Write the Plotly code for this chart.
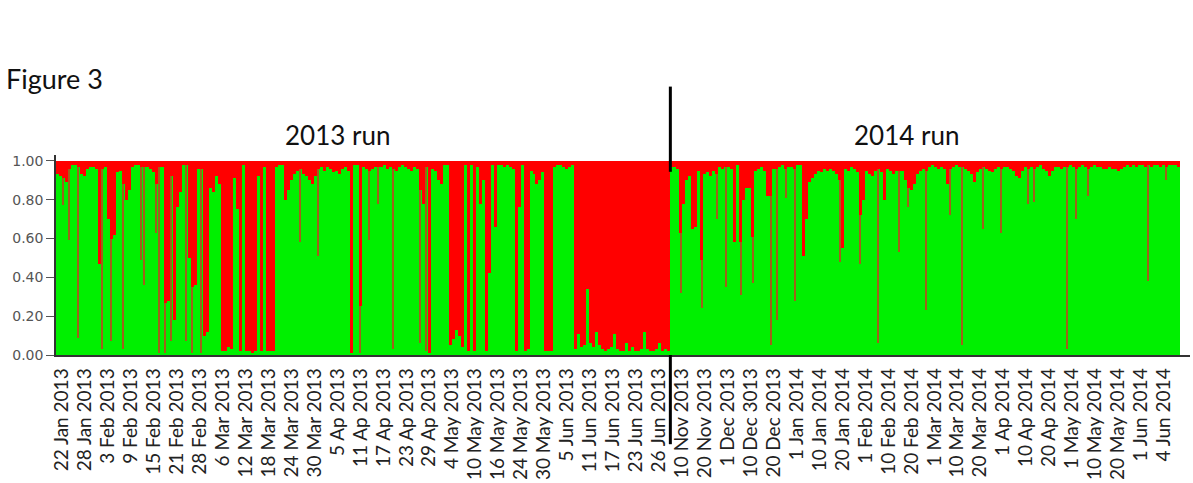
import numpy as np
import plotly.graph_objects as go

# ---------------- data (green = cluster 1 membership per individual) ----------------
green_2013 = [
    .93, .92, .91, .89, .96, .98, .98, .97, .93, .92,
    .96, .97, .97, .96, .47, .96, .97, .70, .60, .62,
    .94, .95, .88, .80, .85, .97, .98, .98, .97, .97,
    .97, .96, .94, .88, .97, .97, .27, .28, .92, .18,
    .76, .84, .98, .98, .50, .35, .36, .96, .96, .10,
    .12, .86, .84, .92, .88, .02, .02, .04, .03, .91,
    .75, .02, .98, .02, .02, .01, .02, .92, .02, .97,
    .02, .02, .02, .97, .98, .98, .80, .85, .90, .93,
    .95, .96, .93, .92, .90, .88, .92, .96, .97, .95,
    .97, .96, .94, .95, .93, .96, .97, .95, .01, .98,
    .98, .25, .97, .96, .95, .96, .97, .97, .97, .98,
    .96, .97, .96, .95, .97, .98, .97, .96, .95, .97,
    .96, .85, .78, .97, .01, .96, .95, .90, .88, .98,
    .98, .05, .08, .13, .10, .04, .98, .02, .98, .02,
    .97, .78, .90, .02, .42, .98, .66, .98, .98, .97,
    .98, .97, .96, .02, .76, .98, .02, .03, .95, .93,
    .88, .90, .94, .02, .02, .02, .97, .98, .98, .97,
    .96, .97, .98, .03, .11, .04, .05, .34, .06, .04,
    .12, .05, .03, .02, .03, .04, .11, .03, .02, .02,
    .06, .02, .04, .02, .02, .03, .12, .03, .02, .02,
    .03, .06, .02, .03, .02,
]

green_2014 = [
    .97, .97, .96, .63, .78,
    .90, .92, .65, .66, .95, .49, .93, .94, .92, .95,
    .93, .97, .96, .97, .97, .96, .58, .98, .58, .80,
    .86, .86, .61, .95, .96, .97, .95, .82, .82, .96,
    .96, .97, .98, .96, .97, .97, .96, .98, .98, .51,
    .70, .89, .91, .93, .95, .94, .96, .95, .96, .95,
    .93, .90, .55, .96, .95, .97, .96, .94, .72, .80,
    .95, .93, .92, .95, .96, .94, .80, .96, .95, .93,
    .95, .95, .95, .90, .86, .85, .88, .93, .95, .96,
    .95, .97, .98, .97, .96, .97, .96, .88, .96, .97,
    .98, .97, .97, .96, .95, .93, .89, .94, .96, .97,
    .96, .95, .94, .96, .97, .96, .97, .97, .96, .95,
    .92, .91, .95, .97, .96, .97, .96, .97, .98, .96,
    .95, .92, .95, .97, .97, .96, .97, .97, .98, .97,
    .96, .97, .98, .97, .96, .97, .98, .97, .97, .96,
    .96, .97, .96, .96, .95, .96, .97, .98, .97, .98,
    .97, .98, .98, .97, .98, .97, .98, .98, .97, .98,
    .97, .98, .98, .98, .97,
]

# thin single-individual spikes (individual index, green value at spike bottom)
spike_index = [2, 4, 7, 15, 18, 22, 28, 29, 33, 34, 36, 38, 43, 45, 48, 81, 87,
               101, 104, 107, 112, 121, 123,
               208, 215, 220, 223, 228, 232, 238, 240, 243, 246, 261, 268, 274,
               281, 284, 290, 298, 302, 309, 315, 324, 326, 337, 340, 344, 364, 370]
spike_depth = [.77, .59, .09, .03, .07, .03, .49, .36, .63, .01, .01, .07, .07, .01, .01, .58, .51,
               .01, .59, .78, .03, .06, .02,
               .32, .24, .70, .35, .31, .37, .05, .18, .81, .28, .48, .47, .06,
               .53, .76, .23, .72, .05, .65, .63, .78, .79, .03, .70, .82, .38, .90]

tick_labels = [
    "22 Jan 2013", "28 Jan 2013", "3 Feb 2013", "9 Feb 2013", "15 Feb 2013", "21 Feb 2013",
    "28 Feb 2013", "6 Mar 2013", "12 Mar 2013", "18 Mar 2013", "24 Mar 2013", "30 Mar 2013",
    "5 Ap 2013", "11 Ap 2013", "17 Ap 2013", "23 Ap 2013", "29 Ap 2013", "4 May 2013",
    "10 May 2013", "16 May 2013", "24 May 2013", "30 May 2013", "5 Jun 2013", "11 Jun 2013",
    "17 Jun 2013", "23 Jun 2013", "26 Jun 2013",
    "10 Nov 2013", "20 Nov 2013", "1 Dec 2013", "10 Dec 3013", "20 Dec 2013", "1 Jan 2014",
    "10 Jan 2014", "20 Jan 2014", "1 Feb 2014", "10 Feb 2014", "20 Feb 2014", "1 Mar 2014",
    "10 Mar 2014", "20 Mar 2014", "1 Ap 2014", "10 Ap 2014", "20 Ap 2014", "1 May 2014",
    "10 May 2014", "20 May 2014", "1 Jun 2014", "4 Jun 2014",
]
run_titles = ["2013 run", "2014 run"]

# ---------------- figure ----------------
green = np.array(green_2013 + green_2014)
red = 1 - green
idx = np.arange(len(green))
n13 = len(green_2013)

GREEN = "#00f000"
RED = "#ff0000"
BROWN = "#a0601a"

fig = go.Figure()
fig.add_trace(go.Bar(x=idx, y=green, base=0, width=1,
                     marker=dict(color=GREEN, line=dict(width=0)), hoverinfo="skip"))
fig.add_trace(go.Bar(x=idx, y=red, base=green, width=1,
                     marker=dict(color=RED, line=dict(width=0)), hoverinfo="skip"))
sp_i = np.array(spike_index)
sp_d = np.array(spike_depth)
sp_h = np.clip(green[sp_i] - sp_d, 0, None)
fig.add_trace(go.Bar(x=sp_i, y=sp_h, base=sp_d, width=0.45,
                     marker=dict(color=BROWN, line=dict(width=0)), hoverinfo="skip"))

tickvals = np.linspace(1.5, 369.2, len(tick_labels))

fig.update_layout(
    width=1193, height=483,
    margin=dict(l=56, r=3, t=155, b=126),
    paper_bgcolor="white", plot_bgcolor="white",
    barmode="overlay", bargap=0, showlegend=False,
    font=dict(family="Lato, sans-serif", color="#111"),
    xaxis=dict(range=[-0.5, 377.9], showgrid=False, zeroline=False,
               showline=True, linecolor="#333", linewidth=1.5,
               ticks="", tickmode="array", tickvals=tickvals, ticktext=tick_labels,
               ticklabelstandoff=4,
               tickangle=-90, tickfont=dict(family="Lato", size=19, color="#222")),
    yaxis=dict(range=[0, 1.03], showgrid=False, zeroline=False,
               showline=True, linecolor="#333", linewidth=1.5,
               ticks="outside", ticklen=8, tickwidth=1, tickcolor="#555",
               tickvals=[0, 0.2, 0.4, 0.6, 0.8, 1.0], tickformat=".2f",
               tickfont=dict(family="DejaVu Sans", size=14, color="#555")),
)

fig.add_annotation(text="Figure 3", xref="paper", yref="paper", x=-0.046, y=1.385,
                   xanchor="left", yanchor="middle", showarrow=False,
                   font=dict(family="Lato", size=27, color="#111"))
fig.add_annotation(text=run_titles[0], xref="paper", yref="paper", x=0.2478, y=1.099,
                   xanchor="center", yanchor="middle", showarrow=False,
                   font=dict(family="Lato", size=26, color="#111"))
fig.add_annotation(text=run_titles[1], xref="paper", yref="paper", x=0.7496, y=1.099,
                   xanchor="center", yanchor="middle", showarrow=False,
                   font=dict(family="Lato", size=26, color="#111"))

div_x = n13 - 0.5
fig.add_shape(type="line", xref="x", yref="paper", x0=div_x, x1=div_x, y0=0.916, y1=1.342,
              line=dict(color="black", width=3))
fig.add_shape(type="line", xref="x", yref="paper", x0=div_x, x1=div_x, y0=-0.446, y1=0.0,
              line=dict(color="black", width=3))

fig.write_html("out.html")
